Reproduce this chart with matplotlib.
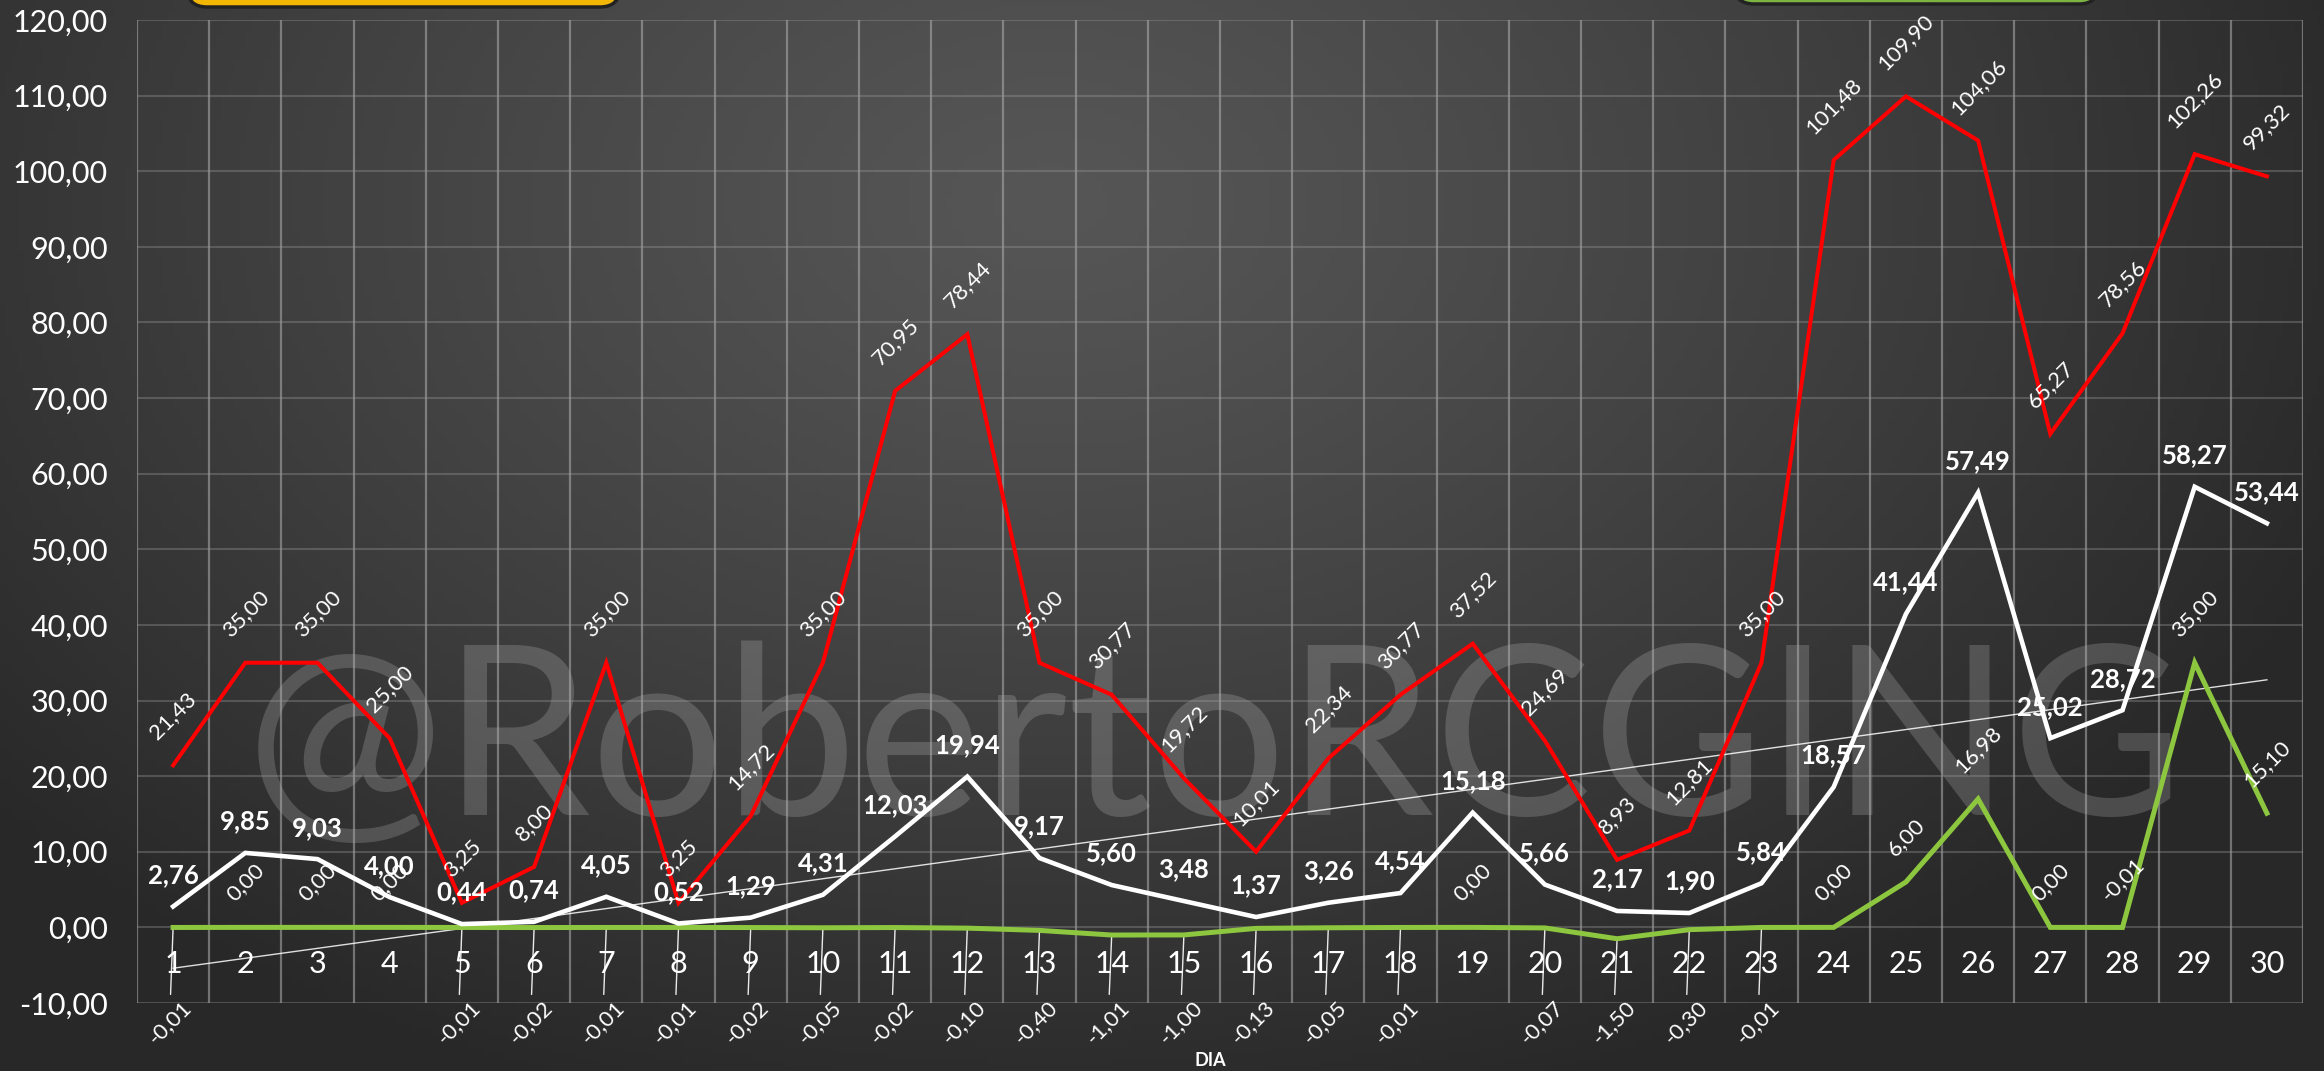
import numpy as np
import matplotlib
matplotlib.use("Agg")
import matplotlib.pyplot as plt
from matplotlib.patches import FancyBboxPatch
from matplotlib.transforms import IdentityTransform

plt.rcParams['font.family'] = ['Lato', 'DejaVu Sans']

# ---------------- data ----------------
days = list(range(1, 31))
day_labels = [str(d) for d in days]
red_vals = [21.43, 35.00, 35.00, 25.00, 3.25, 8.00, 35.00, 3.25, 14.72, 35.00,
            70.95, 78.44, 35.00, 30.77, 19.72, 10.01, 22.34, 30.77, 37.52, 24.69,
            8.93, 12.81, 35.00, 101.48, 109.90, 104.06, 65.27, 78.56, 102.26, 99.32]
white_vals = [2.76, 9.85, 9.03, 4.00, 0.44, 0.74, 4.05, 0.52, 1.29, 4.31,
              12.03, 19.94, 9.17, 5.60, 3.48, 1.37, 3.26, 4.54, 15.18, 5.66,
              2.17, 1.90, 5.84, 18.57, 41.44, 57.49, 25.02, 28.72, 58.27, 53.44]
green_vals = [-0.01, 0.00, 0.00, 0.00, -0.01, -0.02, -0.01, -0.01, -0.02, -0.05,
              -0.02, -0.10, -0.40, -1.01, -1.00, -0.13, -0.05, -0.01, 0.00, -0.07,
              -1.50, -0.30, -0.01, 0.00, 6.00, 16.98, 0.00, -0.01, 35.00, 15.10]
y_ticks = list(range(-10, 121, 10))
green_label_above_days = [28]
x_title = "DIA"
watermark = "@RobertoRCGING"


def fmt(v):
    return f"{v:.2f}".replace(".", ",")


W, H = 2324, 1071
fig = plt.figure(figsize=(W / 100, H / 100), dpi=100)

# ---------------- background ----------------
bg = fig.add_axes([0, 0, 1, 1])
bg.axis("off")
yy, xx = np.mgrid[0:H:6, 0:W:6]
d = np.sqrt(((xx - 1050) / 1400.0) ** 2 + ((yy - 200) / 950.0) ** 2)
d = np.clip(d, 0, 1)
val = (86 - 46 * d ** 1.2) / 255.0
img = np.dstack([val, val, val])
bg.imshow(img, extent=[0, 1, 0, 1], aspect="auto", origin="upper")
bg.set_xlim(0, 1)
bg.set_ylim(0, 1)

# watermark (behind the chart)
wm = bg.text(1215 / W, 1 - 748 / H, watermark, ha="center", va="center",
             fontsize=100, color="white", alpha=0.17, fontweight="normal",
             transform=bg.transAxes, zorder=2)
fig.canvas.draw()
bb = wm.get_window_extent()
wm.set_fontsize(100 * 1940 / bb.width)

# ---------------- main axes ----------------
left, right, top, bottom = 137, 2303, 20, 1003
ax = fig.add_axes([left / W, 1 - bottom / H, (right - left) / W, (bottom - top) / H])
ax.patch.set_alpha(0)
ax.set_xlim(0.5, 30.5)
ax.set_ylim(-10, 120)
for s in ax.spines.values():
    s.set_visible(False)

ax.set_yticks(y_ticks)
ax.set_yticklabels([fmt(v) for v in y_ticks])
ax.tick_params(axis="y", length=0, pad=21, labelsize=22, labelcolor="white")
ax.set_xticks(days)
ax.set_xticklabels(day_labels)
ax.tick_params(axis="x", length=0, pad=-38, labelsize=22, labelcolor="white")
ax.set_xticks(np.arange(0.5, 31, 1), minor=True)
ax.tick_params(axis="x", which="minor", length=0)
ax.grid(axis="y", which="major", color="#9a9a9a", alpha=0.35, lw=1.5)
ax.grid(axis="x", which="minor", color="#b0b0b0", alpha=0.55, lw=1.6)
ax.grid(axis="x", which="major", visible=False)
ax.set_axisbelow(True)

# trend line of white series
coef = np.polyfit(days, white_vals, 1)
ax.plot(days, np.polyval(coef, days), color="white", lw=1.0, alpha=0.85, zorder=3)

ax.plot(days, green_vals, color="#8dc63f", lw=3.6, zorder=4, solid_joinstyle="miter")
ax.plot(days, white_vals, color="white", lw=3.3, zorder=5, solid_joinstyle="miter")
ax.plot(days, red_vals, color="#ff0000", lw=2.9, zorder=6, solid_joinstyle="miter")

# labels
for x, v in zip(days, red_vals):
    ax.annotate(fmt(v), (x, v), xytext=(0, 16), textcoords="offset points",
                ha="center", va="bottom", rotation=45, fontsize=16, color="white", zorder=8)
for x, v in zip(days, white_vals):
    ax.annotate(fmt(v), (x, v), xytext=(0, 14), textcoords="offset points",
                ha="center", va="bottom", fontsize=18.5, fontweight="bold", color="white", zorder=8)
for x, v in zip(days, green_vals):
    if v >= 0 or x in green_label_above_days:
        ax.annotate(fmt(v), (x, v), xytext=(0, 16), textcoords="offset points",
                    ha="center", va="bottom", rotation=45, fontsize=16, color="white", zorder=8)
    else:
        ax.annotate(fmt(v), (x, v), xytext=(x - 0.05, -12.6), textcoords="data",
                    ha="center", va="center", rotation=45, fontsize=16, color="white",
                    annotation_clip=False, zorder=8,
                    arrowprops=dict(arrowstyle="-", color="white", lw=1.0,
                                    shrinkA=0, shrinkB=2, alpha=0.9))

fig.text(1210 / W, 1 - 1060 / H, x_title, ha="center", va="center",
         fontsize=13, fontweight="bold", color="white")

# cut-off boxes at top
fig.add_artist(FancyBboxPatch((187, H - 7), 433, 80, boxstyle="round,pad=0,rounding_size=20",
                              transform=IdentityTransform(), fc="#f2b705", ec="#222222", lw=2.5))
fig.add_artist(FancyBboxPatch((1734, H - 4), 365, 80, boxstyle="round,pad=0,rounding_size=20",
                              transform=IdentityTransform(), fc="#7cb342", ec="#222222", lw=2.5))

fig.savefig("out.png", dpi=100)
